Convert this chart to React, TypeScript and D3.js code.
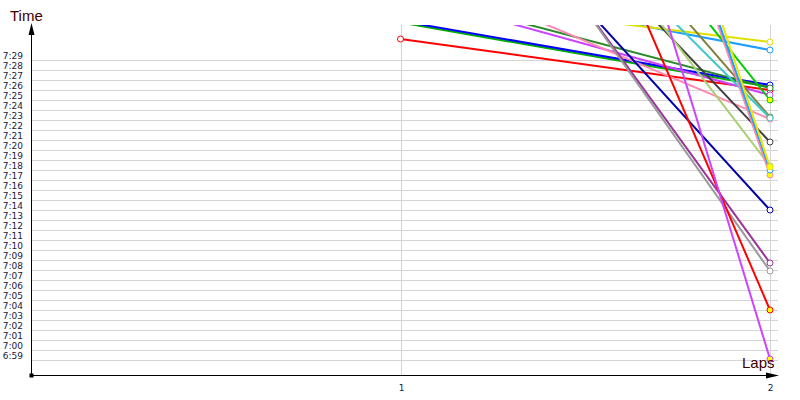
import * as d3 from "d3";

// lap numbers on the x axis
const laps = [1, 2];

// y tick labels (lap time m:ss)
const yTickLabels = [
  "6:59", "7:00", "7:01", "7:02", "7:03", "7:04", "7:05", "7:06", "7:07", "7:08",
  "7:09", "7:10", "7:11", "7:12", "7:13", "7:14", "7:15", "7:16", "7:17", "7:18",
  "7:19", "7:20", "7:21", "7:22", "7:23", "7:24", "7:25", "7:26", "7:27", "7:28",
  "7:29",
];

// lap times in seconds, one entry per driver
const lap1Times = [
  451.1, 452.75, 452.9, 455.9, 455.7, 458.7, 457.0, 455.3,
  474.5, 479.6, 480.2, 509.8, 485.9, 480.2, 479.8, 486.6,
  491.25, 544.0, 544.5, 549.0, 540.2,
];
const lap2Times = [
  446.0, 446.3, 446.5, 446.2, 445.5, 443.1, 450.0, 450.8,
  434.0, 428.7, 427.9, 424.0, 443.3, 443.2, 440.8, 438.4,
  445.0, 437.5, 438.0, 438.3, 419.1,
];
const seriesColors = [
  "#ff0000", "#00b000", "#0000ff", "#2a8a2a", "#cc44ff", "#ff88b0", "#1e9fff", "#e0e000",
  "#0000aa", "#993399", "#999999", "#ff0000", "#808040", "#40c8c8", "#404040", "#a8d070",
  "#00cc00", "#ff88b0", "#1e9fff", "#e8e800", "#cc44ff",
];
// drivers whose lap-2 marker is filled (fastest lap flag)
const fastestLap = [
  false, false, false, false, false, false, false, false,
  false, false, false, true, false, false, false, false,
  true, true, false, true, true,
];

const W = 800;
const H = 400;
const X0 = 31;
const Y0 = 375;
const TOP = 25;

const parseTime = (s: string) => {
  const [m, sec] = s.split(":").map(Number);
  return m * 60 + sec;
};

export default function App() {
  const x = d3.scaleLinear().domain([0, 2]).range([X0, 770]);
  const y = d3.scaleLinear().domain([417.5, 452.5]).range([Y0, TOP]);

  const line = d3
    .line<number>()
    .x((_, i) => x(laps[i]))
    .y((d) => y(d));

  const series = lap1Times.map((v, i) => ({
    values: [v, lap2Times[i]],
    color: seriesColors[i],
    filled: fastestLap[i],
  }));

  const labelColor = "#400000";
  const tickColor = "#202040";

  return (
    <svg
      width={W}
      height={H}
      style={{ position: "absolute", left: 0, top: 0, background: "#fff" }}
      fontFamily="DejaVu Sans, sans-serif"
    >
      <defs>
        <clipPath id="plot">
          <rect x={X0} y={TOP} width={W - X0} height={Y0 - TOP} />
        </clipPath>
      </defs>

      {/* horizontal grid + y tick labels */}
      {yTickLabels.map((t) => {
        const yy = Math.round(y(parseTime(t))) + 0.5;
        return (
          <g key={t}>
            <line x1={X0} x2={778} y1={yy} y2={yy} stroke="#d4d4d4" strokeWidth={1} />
            <text x={23} y={yy - 2} fontSize={9} textAnchor="end" fill={tickColor}>
              {t}
            </text>
          </g>
        );
      })}

      {/* vertical grid at laps */}
      {laps.map((l) => {
        const xx = Math.round(x(l)) + 0.5;
        return (
          <g key={l}>
            <line x1={xx} x2={xx} y1={TOP} y2={Y0} stroke="#d4d4d4" strokeWidth={1} />
            <text x={xx} y={391} fontSize={9} textAnchor="middle" fill={tickColor}>
              {l}
            </text>
          </g>
        );
      })}

      {/* series */}
      <g clipPath="url(#plot)">
        {series.map((s, i) => (
          <path
            key={i}
            d={line(s.values) ?? ""}
            fill="none"
            stroke={s.color}
            strokeWidth={2}
          />
        ))}
        {series.map((s, i) =>
          s.values.map((v, j) =>
            y(v) >= TOP && y(v) <= Y0 ? (
              <circle
                key={`${i}-${j}`}
                cx={x(laps[j])}
                cy={y(v)}
                r={3}
                fill={s.filled && j === 1 ? "#ffff00" : "#fff"}
                stroke={s.color}
                strokeWidth={1}
              />
            ) : null
          )
        )}
      </g>

      {/* axes */}
      <line x1={X0 + 0.5} x2={X0 + 0.5} y1={Y0} y2={30} stroke="#000" strokeWidth={1} />
      <path d={`M${X0 + 0.5},23 L${X0 + 3.5},35 L${X0 - 2.5},35 Z`} fill="#000" />
      <line x1={X0} x2={772} y1={Y0 + 0.5} y2={Y0 + 0.5} stroke="#000" strokeWidth={1} />
      <path d={`M779,${Y0 + 0.5} L766,${Y0 - 2.5} L766,${Y0 + 3.5} Z`} fill="#000" />
      <rect x={X0 - 1.5} y={Y0 - 1.5} width={4} height={4} fill="#000" />

      <text x={10} y={21} fontSize={15} fontFamily="Liberation Sans, sans-serif" fill={labelColor}>
        Time
      </text>
      <text x={742} y={368} fontSize={15} fontFamily="Liberation Sans, sans-serif" fill={labelColor}>
        Laps
      </text>
    </svg>
  );
}
